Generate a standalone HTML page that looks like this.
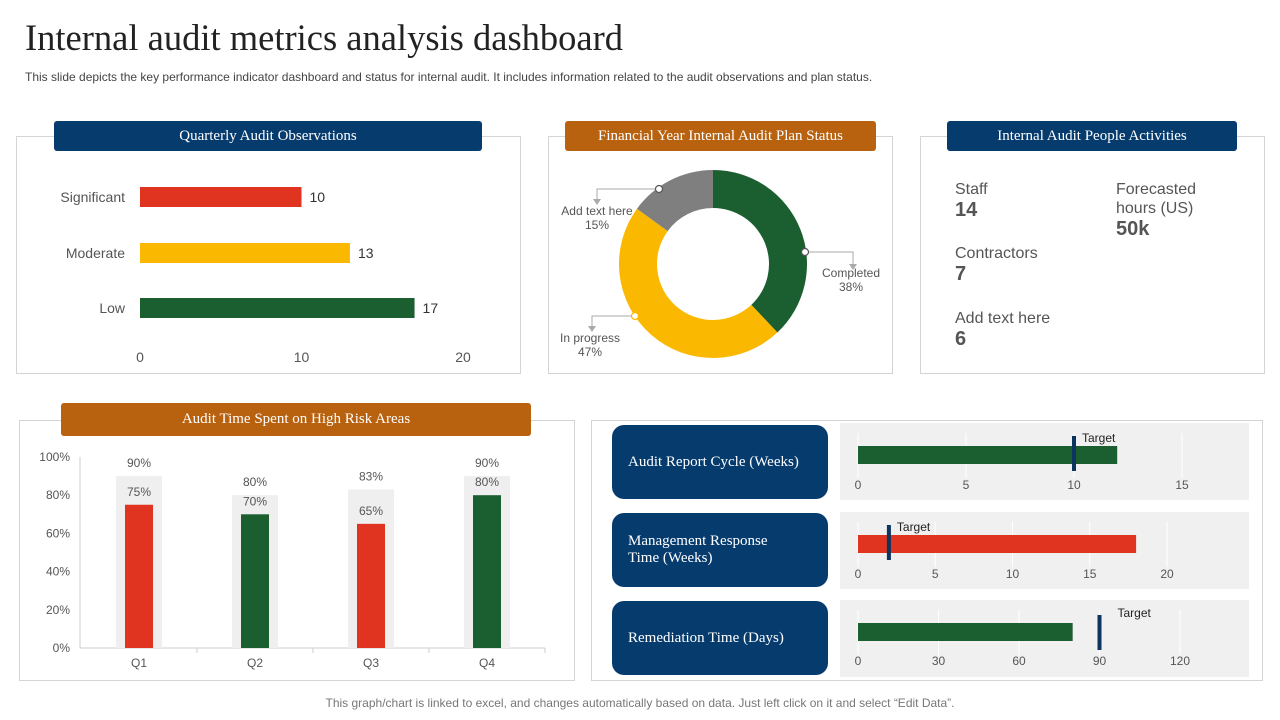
<!DOCTYPE html>
<html><head><meta charset="utf-8"><style>
body{margin:0;width:1280px;height:720px;background:#fff;position:relative;overflow:hidden;font-family:"Liberation Sans",sans-serif}
.abs{position:absolute}
.box{position:absolute;border:1px solid #d4d4d4;background:#fff}
.hdr{position:absolute;color:#fff;font-family:"Liberation Serif",serif;font-size:15px;display:flex;align-items:center;justify-content:center;border-radius:3px}
.navy{background:#063b6e}.orange{background:#b8610f}
.lab{position:absolute;background:#063b6e;color:#fff;font-family:"Liberation Serif",serif;font-size:15px;border-radius:12px;display:flex;align-items:center;padding-left:16px;box-sizing:border-box}
.kp{position:absolute;color:#555;font-size:16px;line-height:19px}
.kp b{display:block;font-size:20px;color:#555;margin-top:2px}
</style></head><body>
<div class="abs" style="left:25px;top:16px;font-family:'Liberation Serif',serif;font-size:36.5px;color:#222">Internal audit metrics analysis dashboard</div>
<div class="abs" style="left:25px;top:70px;font-size:12px;color:#444">This slide depicts the key performance indicator dashboard and status for internal audit. It includes information related to the audit observations and plan status.</div>

<div class="box" style="left:16px;top:136px;width:503px;height:236px"></div>
<div class="hdr navy" style="left:54px;top:121px;width:428px;height:30px">Quarterly Audit Observations</div>
<svg class="abs" id="c1" style="left:0;top:0" width="530" height="380"></svg>

<div class="box" style="left:548px;top:136px;width:343px;height:236px"></div>
<div class="hdr orange" style="left:565px;top:121px;width:311px;height:30px">Financial Year Internal Audit Plan Status</div>
<svg class="abs" id="c2" style="left:548px;top:152px" width="344" height="220"></svg>

<div class="box" style="left:920px;top:136px;width:343px;height:236px"></div>
<div class="hdr navy" style="left:947px;top:121px;width:290px;height:30px">Internal Audit People Activities</div>
<div class="kp" style="left:955px;top:180px">Staff<b>14</b></div>
<div class="kp" style="left:955px;top:244px">Contractors<b>7</b></div>
<div class="kp" style="left:955px;top:309px">Add text here<b>6</b></div>
<div class="kp" style="left:1116px;top:180px">Forecasted<br>hours (US)<b>50k</b></div>

<div class="box" style="left:19px;top:420px;width:554px;height:259px"></div>
<div class="hdr orange" style="left:61px;top:403px;width:470px;height:33px">Audit Time Spent on High Risk Areas</div>
<svg class="abs" id="c3" style="left:0;top:0" width="580" height="690"></svg>

<div class="box" style="left:591px;top:420px;width:670px;height:259px"></div>
<div class="lab" style="left:612px;top:425px;width:216px;height:74px">Audit Report Cycle (Weeks)</div>
<div class="lab" style="left:612px;top:513px;width:216px;height:74px">Management Response<br>Time (Weeks)</div>
<div class="lab" style="left:612px;top:601px;width:216px;height:74px">Remediation Time (Days)</div>
<svg class="abs" id="c4" style="left:0;top:0" width="1280" height="690"></svg>

<div class="abs" style="left:0;width:1280px;top:696px;text-align:center;font-size:12px;color:#777">This graph/chart is linked to excel, and changes automatically based on data. Just left click on it and select “Edit Data”.</div>

<script>
const NS="http://www.w3.org/2000/svg";
function mk(p,t,a,txt){const e=document.createElementNS(NS,t);for(const k in a)e.setAttribute(k,a[k]);if(txt!==undefined)e.textContent=txt;p.appendChild(e);return e;}

// Chart 1
const obsCats=["Significant","Moderate","Low"];
const obsVals=[10,13,17];
const obsColors=["#e03421","#fbb800","#1b5e30"];
const obsTicks=[0,10,20];
{const s=document.getElementById('c1');const x=v=>140+v*16.15;const yc=[197,253,308];
obsTicks.forEach(t=>{const e=mk(s,'text',{x:x(t),y:362,'text-anchor':'middle','font-size':14,fill:'#555'},t);});
obsCats.forEach((c,i)=>{
const l=mk(s,'text',{x:125,y:yc[i]+5,'text-anchor':'end','font-size':14,fill:'#555'},c);
const b=mk(s,'rect',{x:140,y:yc[i]-10,width:x(obsVals[i])-140,height:20,fill:obsColors[i]});
const v=mk(s,'text',{x:x(obsVals[i])+8,y:yc[i]+5,'font-size':14,fill:'#333'},obsVals[i]);});}

// Chart 2 donut
const planLabels=["Completed","In progress","Add text here"];
const planVals=[38,47,15];
const planColors=["#1b5e30","#fbb800","#7f7f7f"];
{const s=document.getElementById('c2');const cx=165,cy=112,R=94,r=56;let a0=0;const tot=planVals.reduce((a,b)=>a+b,0);
const pt=(a,rr)=>[cx+rr*Math.sin(a),cy-rr*Math.cos(a)];
planVals.forEach((v,i)=>{const a1=a0+v/tot*2*Math.PI;const lg=(a1-a0)>Math.PI?1:0;
const [x0,y0]=pt(a0,R),[x1,y1]=pt(a1,R),[x2,y2]=pt(a1,r),[x3,y3]=pt(a0,r);
const p=mk(s,'path',{d:`M${x0} ${y0}A${R} ${R} 0 ${lg} 1 ${x1} ${y1}L${x2} ${y2}A${r} ${r} 0 ${lg} 0 ${x3} ${y3}Z`,fill:planColors[i]});

a0=a1;});
const lp=[[[257,100],[305,100],[305,112],303,125],[[87,164],[44,164],[44,174],42,190],[[111,37],[49,37],[49,47],49,63]];
planLabels.forEach((l,i)=>{const q=lp[i];mk(s,'polyline',{points:q.slice(0,3).map(p=>p.join(',')).join(' '),fill:'none',stroke:'#aaa'});
mk(s,'path',{d:`M${q[2][0]-4} ${q[2][1]}L${q[2][0]+4} ${q[2][1]}L${q[2][0]} ${q[2][1]+6}Z`,fill:'#aaa'});
mk(s,'circle',{cx:q[0][0],cy:q[0][1],r:3.5,fill:'#fff',stroke:planColors[i]==='#fbb800'?'#fbb800':'#555','stroke-width':1.2});
const t=mk(s,'text',{x:q[3],y:q[4],'text-anchor':'middle','font-size':12,fill:'#555'},l);
mk(s,'text',{x:q[3],y:q[4]+14,'text-anchor':'middle','font-size':12,fill:'#555'},planVals[i]+'%');});}

// Chart 3
const qCats=["Q1","Q2","Q3","Q4"];
const qTarget=[90,80,83,90];
const qActual=[75,70,65,80];
const qColors=["#e03421","#1b5e30","#e03421","#1b5e30"];
const yTicks=[0,20,40,60,80,100];
{const s=document.getElementById('c3');const y=v=>648-v*1.91;const cx=i=>139+i*116;
mk(s,'line',{x1:80,y1:457,x2:80,y2:648,stroke:'#ccc'});mk(s,'line',{x1:80,y1:648,x2:545,y2:648,stroke:'#ccc'});
yTicks.forEach(t=>{const e=mk(s,'text',{x:70,y:y(t)+4,'text-anchor':'end','font-size':12,fill:'#555'},t+'%');});
qCats.forEach((c,i)=>{
mk(s,'line',{x1:cx(i)+58,y1:648,x2:cx(i)+58,y2:653,stroke:'#ccc'});
const bg=mk(s,'rect',{x:cx(i)-23,y:y(qTarget[i]),width:46,height:648-y(qTarget[i]),fill:'#efefef'});
const b=mk(s,'rect',{x:cx(i)-14,y:y(qActual[i]),width:28,height:648-y(qActual[i]),fill:qColors[i]});
mk(s,'text',{x:cx(i),y:y(qTarget[i])-9,'text-anchor':'middle','font-size':12,fill:'#555'},qTarget[i]+'%');
mk(s,'text',{x:cx(i),y:y(qActual[i])-9,'text-anchor':'middle','font-size':12,fill:'#555'},qActual[i]+'%');
const l=mk(s,'text',{x:cx(i),y:667,'text-anchor':'middle','font-size':12,fill:'#555'},c);});}

// Chart 4 bullets
const bulletNames=["report-cycle","mgmt-response","remediation"];
const bulletVals=[12,18,80];
const bulletTargets=[10,2,90];
const bulletMax=[15,20,120];
const bulletTicks=[[0,5,10,15],[0,5,10,15,20],[0,30,60,90,120]];
const bulletColors=["#1b5e30","#e03421","#1b5e30"];
{const s=document.getElementById('c4');const geo=[{top:423,bar:446,tick:489,tmax:1182},{top:512,bar:535,tick:578,tmax:1167},{top:600,bar:623,tick:665,tmax:1180}];
bulletNames.forEach((n,i)=>{const g=geo[i];const x=v=>858+v*(g.tmax-858)/bulletMax[i];
mk(s,'rect',{x:840,y:g.top,width:409,height:77,fill:'#f0f0f0'});
bulletTicks[i].forEach(t=>{mk(s,'line',{x1:x(t),y1:g.top+10,x2:x(t),y2:g.top+55,stroke:'#fff'});
const e=mk(s,'text',{x:x(t),y:g.tick,'text-anchor':'middle','font-size':12,fill:'#555'},t);});
const b=mk(s,'rect',{x:858,y:g.bar,width:x(bulletVals[i])-858,height:18,fill:bulletColors[i]});
const tg=mk(s,'rect',{x:x(bulletTargets[i])-2,y:g.bar-10+(i==2?2:0),width:4,height:35,fill:'#0b3560'});
mk(s,'text',{x:x(bulletTargets[i])+(i==2?18:8),y:g.bar-(i==2?6:4),'font-size':12,fill:'#222'},'Target');});}
</script>
</body></html>
